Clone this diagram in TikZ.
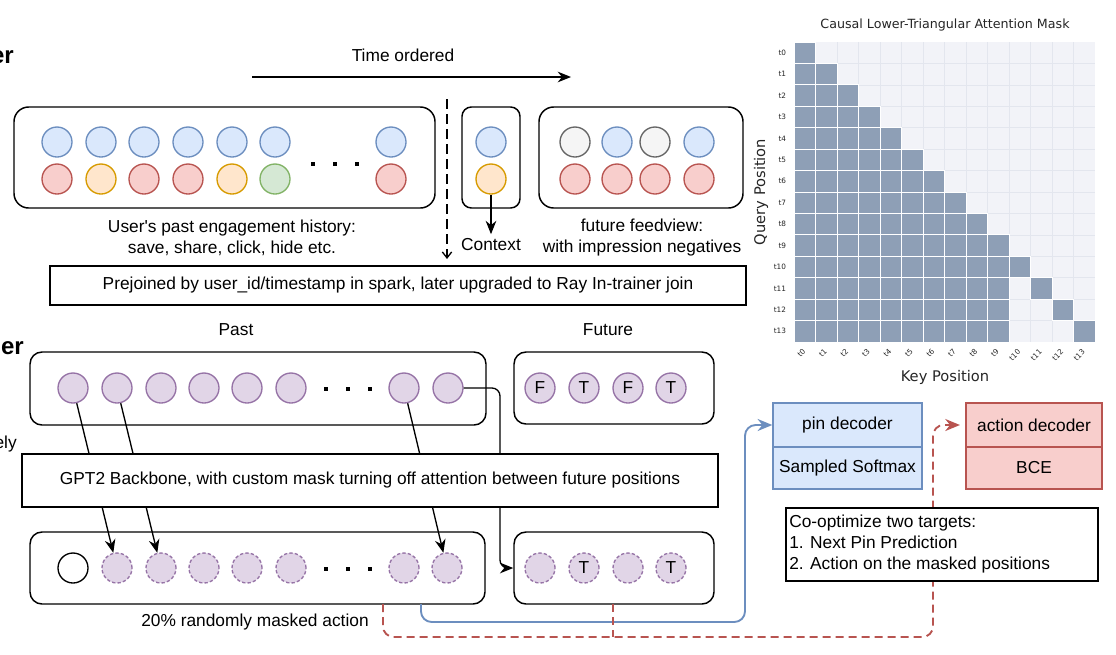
\documentclass[tikz,border=0pt]{standalone}
\usepackage{fontspec}
\setmainfont{Liberation Sans}
\newfontfamily\dejavu{DejaVu Sans}
\usetikzlibrary{arrows.meta}
\definecolor{bluef}{HTML}{DAE8FC}\definecolor{blued}{HTML}{6C8EBF}
\definecolor{redf}{HTML}{F8CECC}\definecolor{redd}{HTML}{B85450}
\definecolor{orf}{HTML}{FFE6CC}\definecolor{ord}{HTML}{D79B00}
\definecolor{grf}{HTML}{D5E8D4}\definecolor{grd}{HTML}{82B366}
\definecolor{gyf}{HTML}{F5F5F5}\definecolor{gyd}{HTML}{666666}
\definecolor{puf}{HTML}{E1D5E7}\definecolor{pud}{HTML}{9673A6}
\definecolor{hmfill}{HTML}{8E9FB6}\definecolor{hmempty}{HTML}{F2F3F8}\definecolor{hmgrid}{HTML}{E3E6EE}
\definecolor{hmtext}{HTML}{262626}
\begin{document}
\begin{tikzpicture}[x=0.75pt,y=-0.75pt,
  every node/.style={font=\fontsize{13}{15.75}\selectfont, text=black},
  rbox/.style={draw=black, line width=1.1pt, rounded corners=11pt, fill=white, inner sep=0pt},
  sbox/.style={draw=black, line width=1.1pt, fill=white, inner sep=0pt},
  circ/.style={circle, minimum size=22.5pt, inner sep=0pt, line width=1pt},
  cb/.style={circ, fill=bluef, draw=blued},
  cr/.style={circ, fill=redf, draw=redd},
  co/.style={circ, fill=orf, draw=ord},
  cg/.style={circ, fill=grf, draw=grd},
  cy/.style={circ, fill=gyf, draw=gyd},
  cp/.style={circ, fill=puf, draw=pud},
  cpd/.style={circ, fill=puf, draw=pud, dash pattern=on 2.5pt off 1.6pt},
  dotsq/.style={rectangle, fill=black, minimum size=3pt, inner sep=0pt},
  arr/.style={-{Stealth[length=10pt,width=8pt]}, line width=1pt},
  bold/.style={font=\fontsize{18}{20}\selectfont\bfseries},
  tick/.style={font=\dejavu\fontsize{5.5}{6}\selectfont, text=hmtext, inner sep=0.5pt},
  hmlbl/.style={font=\dejavu\fontsize{11}{13}\selectfont, text=hmtext}
]
\useasboundingbox (0,0) rectangle (1116,654);
\fill[white] (0,0) rectangle (1116,654);

% cut-off labels at left edge
\node[bold, anchor=base east, inner sep=0pt] (cut1) at (14,63) {er};
\node[bold, anchor=base east, inner sep=0pt] (cut2) at (24,354) {er};
\node[anchor=east, inner sep=0pt] (cut3) at (17,444) {ely};

% time ordered
\node (tolbl) at (403,55) {Time ordered};
\coordinate (ts) at (252,77);
\coordinate (te) at (571,77);
\draw[arr] (ts) -- (te);

% history box
\node[rbox, minimum width=315.75pt, minimum height=75.75pt] (hist) at (224.5,157.5) {};
\foreach \x/\n in {57/1,101/2,144/3,188/4,232/5,275/6,391/7}
  \node[cb] (hu\n) at (\x,142) {};
\foreach \x/\n/\s in {57/1/cr,101/2/co,144/3/cr,188/4/cr,232/5/co,275/6/cg,391/7/cr}
  \node[\s] (hl\n) at (\x,179) {};
\foreach \x/\n in {313/1,335/2,357/3}
  \node[dotsq] (hd\n) at (\x,164) {};
\node[align=center] (histlbl) at (232,237.5) {User\textquotesingle s past engagement history:\\save, share, click, hide etc.};

% divider
\coordinate (ds) at (447,99);
\coordinate (de) at (447,259);
\draw[line width=1pt, dash pattern=on 7.5pt off 3.75pt, -{Straight Barb[length=4.5pt,width=7pt]}] (ds) -- (de);

% context
\node[rbox, rounded corners=7pt, minimum width=43.5pt, minimum height=75.75pt] (ctx) at (491,157.5) {};
\node[cb] (cu) at (491,142) {};
\node[co] (cl) at (491,179) {};
\node (ctxlbl) at (491,245) {Context};
\draw[arr] (cl) -- (ctxlbl.north);

% future feedview
\node[rbox, minimum width=153pt, minimum height=75.75pt] (ffv) at (641,157.5) {};
\foreach \x/\n/\s in {575/1/cy,617/2/cb,655/3/cy,699/4/cb}
  \node[\s] (fu\n) at (\x,142) {};
\foreach \x/\n in {575/1,617/2,655/3,699/4}
  \node[cr] (fl\n) at (\x,179) {};
\node[align=center] (ffvlbl) at (642,237.5) {future feedview:\\with impression negatives};

% prejoined
\node[sbox, minimum width=522pt, minimum height=29.25pt] (prej) at (398,285.5) {Prejoined by user\_id/timestamp in spark, later upgraded to Ray In-trainer join};

% middle row
\node (pastlbl) at (236,330) {Past};
\node (futlbl) at (608,330) {Future};
\node[rbox, rounded corners=9pt, minimum width=342pt, minimum height=54.75pt] (pbox) at (258,388.5) {};
\foreach \x/\n in {73/1,117/2,161/3,204/4,247/5,291/6,404/7,448/8}
  \node[cp] (pa\n) at (\x,388) {};
\foreach \x/\n in {326/1,348/2,370/3}
  \node[dotsq] (pd\n) at (\x,389) {};
\node[rbox, rounded corners=9pt, minimum width=150pt, minimum height=54pt] (fbox) at (614,388) {};
\foreach \x/\n/\t in {540/1/F,584/2/T,628/3/F,671/4/T}
  \node[cp] (fa\n) at (\x,388) {\t};

% bottom row
\node[rbox, rounded corners=9pt, minimum width=341.25pt, minimum height=54pt] (bbox) at (257.5,568) {};
\node[circ, draw=black, fill=white] (b0) at (73,568) {};
\foreach \x/\n in {117/1,161/2,204/3,247/4,291/5,404/7,447/8}
  \node[cpd] (b\n) at (\x,568) {};
\foreach \x/\n in {326/1,348/2,370/3}
  \node[dotsq] (bd\n) at (\x,569) {};
\node[rbox, rounded corners=9pt, minimum width=150pt, minimum height=54pt] (fbot) at (614,568) {};
\foreach \x/\n/\t in {540/1/{},584/2/T,628/3/{},671/4/T}
  \node[cpd] (fb\n) at (\x,568) {\t};
\node (masklbl) at (255,622) {20\% randomly masked action};

% connectors through backbone
\draw[arr] (pa1) -- (b1);
\draw[arr] (pa2) -- (b2);
\draw[arr] (pa7) -- (b8);
\draw[arr, rounded corners=6pt] (pa8.east) -- (500,388) -- (500,568) -- (fbot.west);

% backbone
\node[sbox, minimum width=522pt, minimum height=39.75pt] (gpt) at (370,480.5) {GPT2 Backbone, with custom mask turning off attention between future positions};

% decoders
\node[draw=blued, fill=bluef, line width=1.1pt, minimum width=111.75pt, minimum height=33pt, inner sep=0pt] (pindec) at (847.5,425) {pin decoder};
\node[draw=blued, fill=bluef, line width=1.1pt, minimum width=111.75pt, minimum height=31.5pt, inner sep=0pt] (pinloss) at (847.5,468) {Sampled Softmax};
\node[draw=redd, fill=redf, line width=1.1pt, minimum width=102pt, minimum height=33pt, inner sep=0pt] (actdec) at (1034,425) {action decoder};
\node[draw=redd, fill=redf, line width=1.1pt, minimum width=102pt, minimum height=31.5pt, inner sep=0pt] (actloss) at (1034,468) {BCE};

% blue connector
\coordinate (bs) at (421,604);
\draw[blued, line width=1.4pt, rounded corners=8pt, -{Stealth[length=11pt,width=9pt]}] (bs) -- (421,622) -- (745,622) -- (745,425) -- (pindec.west);

% red dashed connectors
\coordinate (rs1) at (383,604);
\coordinate (rs2) at (613,604);
\draw[redd, line width=1.4pt, dash pattern=on 6pt off 3.75pt, rounded corners=8pt, -{Stealth[length=11pt,width=9pt]}, shorten >=4pt] (rs1) -- (383,637) -- (933,637) -- (933,425) -- (actdec.west);
\draw[redd, line width=1.4pt, dash pattern=on 6pt off 3.75pt] (rs2) -- (613,637);

% co-optimize box
\node[sbox, minimum width=234pt, minimum height=54.75pt] (coopt) at (942,544.5) {};
\node[anchor=west, align=left, inner sep=0pt] (cooptxt) at (789,544) {Co-optimize two targets:\\1. Next Pin Prediction\\2. Action on the masked positions};

% heatmap
\node[font=\dejavu\fontsize{9.5}{11}\selectfont, text=hmtext] (hmtitle) at (945,25) {Causal Lower-Triangular Attention Mask};
\fill[hmempty] (794,42) rectangle (1095,342);
\foreach \k in {1,...,13} {
  \draw[hmgrid, line width=0.4pt] ({794+\k*21.5},42) -- ++(0,300);
  \draw[hmgrid, line width=0.4pt] (794,{42+\k*21.4286}) -- ++(301,0);
}
\foreach \i in {0,...,13}{
  \foreach \j in {0,...,13}{
    \pgfmathtruncatemacro{\f}{and(\j<=\i, or(\j<=9,\j==\i))}
    \ifnum\f=1
      \filldraw[fill=hmfill, draw=white, line width=0.6pt] ({794+\j*21.5},{42+\i*21.4286}) rectangle ++(21.5,21.4286);
    \fi
  }
}
\foreach \i in {0,...,13}
  \node[tick, anchor=east] (rl\i) at (787,{42+(\i+0.5)*21.4286}) {t\i};
\foreach \j in {0,...,13}
  \node[tick, anchor=east, rotate=45] (cl\j) at ({794+(\j+0.5)*21.5},350) {t\j};
\node[hmlbl] (keylbl) at (945,377) {Key Position};
\node[hmlbl, rotate=90] (qlbl) at (761,192) {Query Position};
\end{tikzpicture}
\end{document}
